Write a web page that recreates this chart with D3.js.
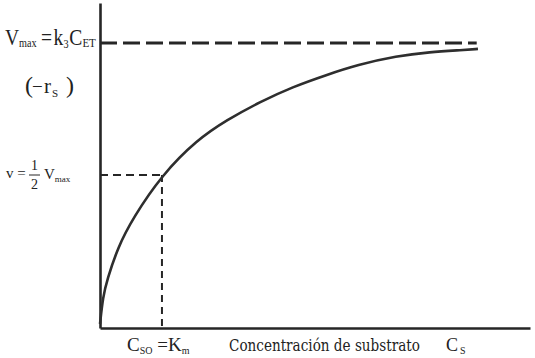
<!DOCTYPE html>
<html><head><meta charset="utf-8">
<script src="https://cdn.jsdelivr.net/npm/d3@7"></script>
<style>body{margin:0;background:#fff}svg{display:block}text{font-family:"Liberation Serif","DejaVu Serif",serif;fill:#222}</style>
</head><body>
<svg id="c" width="535" height="358"></svg>
<script>
// substrate concentration (units of Km) and reaction rate (units of Vmax)
const conc = [0, 0.048, 0.113, 0.29, 0.532, 1.0, 1.565, 2.05, 2.58, 3.11, 3.66, 4.15, 4.79, 5.32, 5.85, 6.10];
const rate = [0.014, 0.109, 0.168, 0.284, 0.386, 0.537, 0.660, 0.730, 0.793, 0.846, 0.888, 0.923, 0.954, 0.968, 0.975, 0.979];
const vmax = [1.0];
const vmaxLineEnd = [6.08];
const km = [1.0];
const halfRate = [0.537];
const xMax = [6.94];
const yMax = [1.14];

const svg = d3.select("#c");
const x = d3.scaleLinear().domain([0, xMax[0]]).range([100, 530]);
const y = d3.scaleLinear().domain([0, yMax[0]]).range([328, 3]);
const ink = "#262626";

// axes (domain lines only)
const gx = svg.append("g").attr("transform", `translate(0,${y(0)})`)
  .call(d3.axisBottom(x).tickValues([]).tickSizeOuter(0));
const gy = svg.append("g").attr("transform", `translate(${x(0)},0)`)
  .call(d3.axisLeft(y).tickValues([]).tickSizeOuter(0));
[gx, gy].forEach(g => g.select(".domain").attr("stroke", ink).attr("stroke-width", 2.6));

// Vmax dashed line
svg.append("line")
  .attr("x1", x(0)).attr("x2", x(vmaxLineEnd[0]))
  .attr("y1", y(vmax[0])).attr("y2", y(vmax[0]))
  .attr("stroke", ink).attr("stroke-width", 3)
  .attr("stroke-dasharray", "17,6");

// half-Vmax guides
svg.append("line")
  .attr("x1", x(0)).attr("x2", x(km[0]))
  .attr("y1", y(halfRate[0])).attr("y2", y(halfRate[0]))
  .attr("stroke", ink).attr("stroke-width", 2)
  .attr("stroke-dasharray", "8,5");
svg.append("line")
  .attr("x1", x(km[0])).attr("x2", x(km[0]))
  .attr("y1", y(halfRate[0])).attr("y2", y(0))
  .attr("stroke", ink).attr("stroke-width", 2)
  .attr("stroke-dasharray", "7,5");

// curve
const pts = conc.map((c, i) => [c, rate[i]]);
svg.append("path")
  .attr("d", d3.line().x(d => x(d[0])).y(d => y(d[1])).curve(d3.curveBasis)(pts))
  .attr("fill", "none").attr("stroke", "#2e2e2e").attr("stroke-width", 2.6);

// labels
const g1 = svg.append("g").attr("transform", "translate(5,45) scale(0.85,1)");
const t1 = g1.append("text").attr("x", 0).attr("y", 0).attr("font-size", 23);
t1.append("tspan").text("V");
t1.append("tspan").attr("font-size", 12).attr("dy", 2).text("max");
t1.append("tspan").attr("dy", -2).attr("dx", 5).text("=");
t1.append("tspan").attr("dx", 2).text("k");
t1.append("tspan").attr("font-size", 12).attr("dy", 3).text("3");
t1.append("tspan").attr("dy", -3).attr("dx", 1).text("C");
t1.append("tspan").attr("font-size", 13).attr("dy", 2).text("ET");

const t2 = svg.append("text").attr("y", 93).attr("font-size", 21);
t2.append("tspan").attr("x", 25).attr("font-size", 24).text("(");
t2.append("tspan").attr("x", 32).attr("font-size", 19).text("\u2212");
t2.append("tspan").attr("x", 44).text("r");
t2.append("tspan").attr("x", 52).attr("font-size", 11).attr("dy", 4).text("S");
t2.append("tspan").attr("x", 66).attr("font-size", 24).attr("dy", -4).text(")");

const t3 = svg.append("text").attr("x", 6).attr("y", 178).attr("font-size", 15);
t3.append("tspan").text("v =");
svg.append("text").attr("x", 34.5).attr("y", 170).attr("font-size", 14).attr("text-anchor", "middle").text("1");
svg.append("line").attr("x1", 29).attr("x2", 40).attr("y1", 175).attr("y2", 175).attr("stroke", ink).attr("stroke-width", 1);
svg.append("text").attr("x", 34.5).attr("y", 189).attr("font-size", 14).attr("text-anchor", "middle").text("2");
const t4 = svg.append("text").attr("x", 44).attr("y", 179).attr("font-size", 15);
t4.append("tspan").text("V");
t4.append("tspan").attr("font-size", 9).attr("dy", 3).text("max");

const t5 = svg.append("text").attr("x", 127).attr("y", 351).attr("font-size", 19);
t5.append("tspan").text("C");
t5.append("tspan").attr("font-size", 10).attr("dy", 3).text("SO");
t5.append("tspan").attr("dy", -3).text(" =K");
t5.append("tspan").attr("font-size", 10).attr("dy", 3).text("m");

const g6 = svg.append("g");
const t6 = g6.append("text").attr("x", 0).attr("y", 0).attr("font-size", 17)
  .style("font-family", "'DejaVu Serif', serif")
  .text("Concentración de substrato");
const w6 = t6.node().getComputedTextLength() || 265;
g6.attr("transform", `translate(229,351) scale(${191 / w6},1)`);

const t7 = svg.append("text").attr("x", 446).attr("y", 351).attr("font-size", 18);
t7.append("tspan").text("C");
t7.append("tspan").attr("font-size", 10).attr("dy", 3).attr("dx", 2).text("S");
</script>
</body></html>
